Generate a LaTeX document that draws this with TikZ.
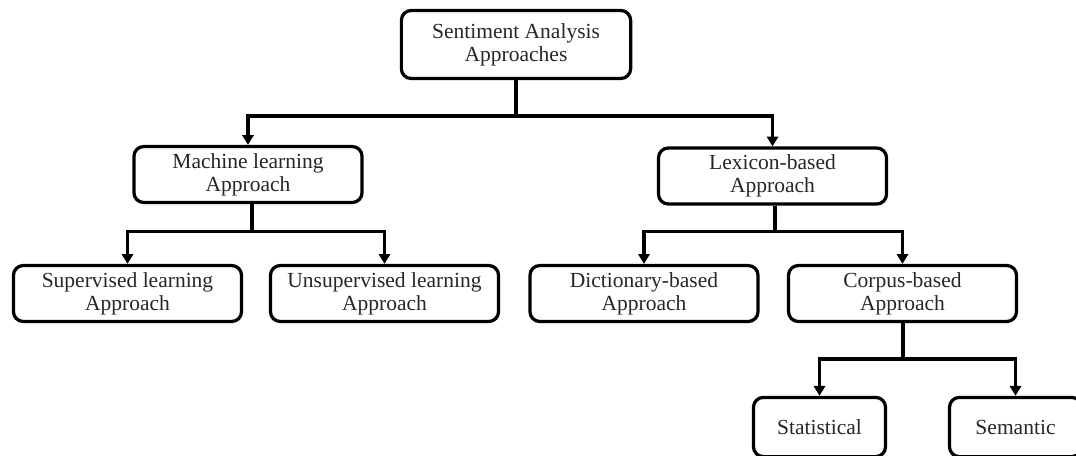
\documentclass[tikz,border=0pt]{standalone}
\usepackage{fontspec}
\setmainfont{Liberation Serif}
\usepackage{tikz}
\usetikzlibrary{arrows.meta}

\begin{document}
\begin{tikzpicture}[x=0.025cm,y=-0.025cm,>={Triangle[length=7pt,width=8pt]},line width=2.3pt,
        box/.style={draw,rounded corners=7pt,align=center,inner sep=0pt,
                    minimum width=5.7cm,minimum height=1.4cm,text=black!85,
                    font=\fontsize{15.3}{16.4}\selectfont},
        leaf/.style={box,minimum width=3.3cm,minimum height=1.48cm}]
        \useasboundingbox (0,0) rectangle (1076,455);
        % boxes
        \node[box,minimum width=5.73cm,minimum height=1.7cm](sa) at (516,44.5) {Sentiment Analysis\\Approaches};
        \node[box](ml) at (248,174.5) {Machine learning\\Approach};
        \node[box](lex) at (772.5,176) {Lexicon-based\\Approach};
        \node[box](sup) at (127.5,293.5) {Supervised learning\\Approach};
        \node[box](unsup) at (384.5,293.5) {Unsupervised learning\\Approach};
        \node[box](dict) at (644,293.5) {Dictionary-based\\Approach};
        \node[box](corp) at (902.5,293.5) {Corpus-based\\Approach};
        \node[leaf](stat) at (819.5,427) {Statistical};
        \node[leaf](sem) at (1015.5,427) {Semantic};
        % branch points
        \coordinate (j_sa) at (516,116);
        \coordinate (j_ml) at (252,231.5);
        \coordinate (j_lex) at (775,231.5);
        \coordinate (j_corp) at (903,359);
        % connectors
        \draw (sa) -- (j_sa);
        \draw[->] (j_sa) -| (ml);
        \draw[->] (j_sa) -| (lex);
        \draw (ml.south -| j_ml) -- (j_ml);
        \draw[->] (j_ml) -| (sup);
        \draw[->] (j_ml) -| (unsup);
        \draw (lex.south -| j_lex) -- (j_lex);
        \draw[->] (j_lex) -| (dict);
        \draw[->] (j_lex) -| (corp);
        \draw (corp.south -| j_corp) -- (j_corp);
        \draw[->] (j_corp) -| (stat);
        \draw[->] (j_corp) -| (sem);
\end{tikzpicture}
\end{document}
